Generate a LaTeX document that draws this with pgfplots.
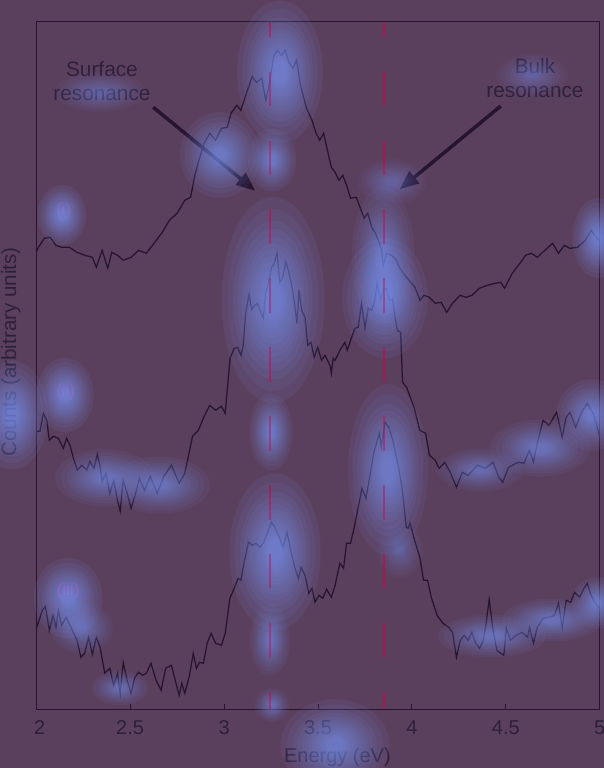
\documentclass[border=0pt]{standalone}
\usepackage{pgfplots}
\pgfplotsset{compat=1.18}
\usepackage{fontspec}
\setmainfont{Liberation Sans}
\usetikzlibrary{arrows.meta}
\definecolor{bgc}{RGB}{91,64,94}
\definecolor{curvec}{RGB}{38,20,48}
\definecolor{textc}{RGB}{46,32,60}
\definecolor{dashc}{RGB}{165,24,80}
\definecolor{labc}{RGB}{155,52,130}
\definecolor{blobc}{RGB}{125,155,255}
% glow in canvas coordinates (outside axis)
\newcommand\blob[5]{\foreach \s in {1.3,1.15,1,0.9,0.8,0.72,0.64,0.56,0.49,0.42,0.36,0.3,0.25,0.2}{\fill[blobc,opacity=#5] ({#1*1bp},{(768-#2)*1bp}) ellipse [x radius={#3*\s*1.1bp}, y radius={#4*\s*1.1bp}];}}
% glow placed through axis coordinates
\newcommand\blobA[5]{\pgfplotsinvokeforeach{1.3,1.15,1,0.9,0.8,0.72,0.64,0.56,0.49,0.42,0.36,0.3,0.25,0.2}{\fill[blobc,opacity=#5] (axis cs:#1,#2) ellipse [x radius={#3*##1*1.1bp}, y radius={#4*##1*1.1bp}];}}
\begin{document}
\fontsize{20bp}{24bp}\selectfont
\begin{tikzpicture}
\useasboundingbox (0,0) rectangle (604bp,768bp);
\fill[bgc] (0,0) rectangle (604bp,768bp);
\begin{axis}[at={(36.2bp,58.7bp)}, anchor=south west, scale only axis,
  width=563.6bp, height=687.6bp,
  xmin=2, xmax=5, ymin=0, ymax=687.6,
  axis line style={draw=curvec, line width=1.1bp},
  ytick=\empty,
  xtick={2,2.5,3,3.5,4,4.5,5},
  xticklabels={\hspace{7bp}2,2.5,3,3.5,4,4.5,5\hspace{6bp}},
  xtick pos=bottom, tick align=inside, major tick length=5bp,
  every tick/.style={draw=curvec, line width=1bp},
  xticklabel style={anchor=base, inner sep=0pt, text=textc, yshift=-24.7bp},
  clip=false]
% dashed reference lines
\draw[dashc, line width=1.9bp, dash pattern=on 34.5bp off 34.4bp, dash phase=17bp] (axis cs:3.246,0) -- (axis cs:3.246,687.6);
\draw[dashc, line width=1.9bp, dash pattern=on 34.5bp off 34.4bp, dash phase=17bp] (axis cs:3.849,0) -- (axis cs:3.849,687.6);
% curve (i)
\addplot[curvec, line width=1.25bp] coordinates {
(2.000,457)(2.012,462)(2.043,471)(2.074,472)(2.105,464)(2.135,462)(2.176,462)(2.217,457)(2.258,454)(2.299,452)(2.320,442)(2.351,459)(2.381,441)(2.402,457)(2.433,454)(2.463,449)(2.505,452)(2.546,459)(2.586,456)(2.627,466)(2.668,476)(2.709,489)(2.750,496)(2.791,509)(2.822,512)(2.842,532)(2.863,547)(2.894,566)(2.924,576)(2.955,569)(2.986,581)(3.017,582)(3.037,596)(3.068,604)(3.089,599)(3.119,616)(3.150,633)(3.171,627)(3.201,631)(3.222,609)(3.242,626)(3.263,652)(3.283,659)(3.304,654)(3.325,659)(3.345,647)(3.366,641)(3.386,649)(3.407,624)(3.437,602)(3.468,589)(3.488,577)(3.509,569)(3.530,576)(3.550,559)(3.571,542)(3.591,537)(3.611,529)(3.632,534)(3.652,524)(3.673,511)(3.704,512)(3.724,502)(3.745,491)(3.765,496)(3.786,482)(3.806,476)(3.827,466)(3.839,459)(3.847,444)(3.865,456)(3.891,454)(3.918,449)(3.935,441)(3.971,432)(3.998,426)(4.016,422)(4.043,409)(4.064,414)(4.093,412)(4.124,406)(4.155,407)(4.185,397)(4.216,406)(4.257,414)(4.288,412)(4.319,414)(4.360,421)(4.401,424)(4.442,426)(4.473,427)(4.493,421)(4.534,436)(4.575,446)(4.605,454)(4.636,456)(4.667,452)(4.708,459)(4.749,466)(4.780,456)(4.811,464)(4.841,461)(4.882,462)(4.923,469)(4.954,479)(4.981,472)(5.000,468)};
% curve (ii)
\addplot[curvec, line width=1.25bp] coordinates {
(2.000,278)(2.006,278)(2.020,278)(2.038,296)(2.056,289)(2.070,269)(2.091,273)(2.118,271)(2.144,261)(2.162,271)(2.180,264)(2.198,251)(2.219,239)(2.242,244)(2.269,239)(2.286,248)(2.308,241)(2.325,255)(2.340,243)(2.351,228)(2.371,236)(2.392,216)(2.412,229)(2.433,209)(2.447,198)(2.463,229)(2.484,216)(2.505,201)(2.525,213)(2.549,231)(2.576,219)(2.607,233)(2.644,216)(2.679,233)(2.720,244)(2.761,226)(2.791,236)(2.832,273)(2.863,279)(2.894,293)(2.924,304)(2.955,299)(2.986,303)(3.006,296)(3.032,351)(3.054,361)(3.072,362)(3.090,354)(3.102,364)(3.115,396)(3.133,415)(3.147,400)(3.164,404)(3.177,406)(3.191,399)(3.209,391)(3.221,416)(3.235,426)(3.253,442)(3.267,446)(3.282,456)(3.297,427)(3.310,431)(3.328,447)(3.342,439)(3.360,424)(3.374,407)(3.388,386)(3.399,419)(3.413,399)(3.431,392)(3.445,364)(3.462,367)(3.480,352)(3.498,362)(3.519,349)(3.537,354)(3.564,344)(3.571,336)(3.581,351)(3.591,349)(3.617,359)(3.643,367)(3.656,359)(3.679,372)(3.697,381)(3.714,382)(3.732,406)(3.750,381)(3.767,401)(3.786,399)(3.803,409)(3.815,426)(3.833,409)(3.847,419)(3.865,421)(3.879,409)(3.897,410)(3.910,392)(3.922,379)(3.940,377)(3.950,327)(3.972,322)(3.993,311)(4.011,302)(4.042,279)(4.073,276)(4.093,254)(4.124,249)(4.145,241)(4.175,247)(4.206,236)(4.237,222)(4.268,237)(4.298,234)(4.350,244)(4.391,241)(4.432,247)(4.462,232)(4.483,227)(4.514,242)(4.565,247)(4.596,246)(4.626,259)(4.647,247)(4.667,266)(4.698,289)(4.729,284)(4.770,297)(4.800,272)(4.821,292)(4.841,297)(4.872,282)(4.903,297)(4.933,306)(4.964,296)(4.995,276)(5.000,274)};
% curve (iii)
\addplot[curvec, line width=1.25bp] coordinates {
(2.000,80)(2.006,84)(2.033,99)(2.049,103)(2.070,79)(2.090,94)(2.105,82)(2.119,99)(2.135,84)(2.160,92)(2.187,81)(2.217,69)(2.238,52)(2.258,56)(2.279,72)(2.299,55)(2.320,72)(2.340,62)(2.365,36)(2.392,41)(2.412,24)(2.433,36)(2.447,16)(2.463,47)(2.484,29)(2.505,16)(2.525,32)(2.546,37)(2.566,34)(2.586,36)(2.611,46)(2.638,29)(2.665,19)(2.689,41)(2.720,44)(2.740,29)(2.761,14)(2.775,26)(2.791,16)(2.816,34)(2.836,56)(2.853,41)(2.869,47)(2.890,46)(2.910,66)(2.931,76)(2.955,66)(2.986,64)(3.006,76)(3.031,111)(3.054,121)(3.075,131)(3.089,129)(3.109,149)(3.130,167)(3.150,164)(3.171,166)(3.191,162)(3.212,167)(3.232,177)(3.253,187)(3.273,181)(3.294,172)(3.314,162)(3.335,177)(3.355,159)(3.376,142)(3.396,131)(3.410,142)(3.431,134)(3.451,116)(3.468,121)(3.484,107)(3.505,114)(3.525,111)(3.546,120)(3.571,112)(3.591,124)(3.616,146)(3.636,141)(3.652,166)(3.673,166)(3.693,182)(3.734,221)(3.755,211)(3.775,232)(3.796,256)(3.827,276)(3.837,262)(3.857,287)(3.878,282)(3.898,269)(3.929,242)(3.949,219)(3.970,182)(3.980,181)(3.990,186)(4.011,171)(4.042,152)(4.062,129)(4.083,129)(4.103,112)(4.134,94)(4.165,86)(4.196,82)(4.216,77)(4.237,52)(4.257,69)(4.278,74)(4.298,69)(4.319,77)(4.339,66)(4.360,61)(4.380,69)(4.395,86)(4.411,110)(4.432,79)(4.452,59)(4.473,56)(4.489,54)(4.503,81)(4.524,69)(4.555,74)(4.585,77)(4.616,72)(4.626,82)(4.647,66)(4.667,82)(4.698,91)(4.729,92)(4.759,94)(4.780,106)(4.800,82)(4.821,109)(4.845,107)(4.866,117)(4.893,112)(4.913,120)(4.933,126)(4.954,114)(4.974,107)(4.996,101)(5.000,100)};
% arrows and annotations
\draw[curvec, line width=3.5bp, -{Triangle[length=19bp,width=15bp]}] (axis cs:2.623,602) -- (axis cs:3.166,518.6);
\draw[curvec, line width=3.5bp, -{Triangle[length=19bp,width=15bp]}] (axis cs:4.473,603.3) -- (axis cs:3.935,520);
\node[text=textc, align=center, inner sep=0pt, font=\fontsize{20.8bp}{23.7bp}\selectfont] at (axis cs:2.350,628.3) {Surface\\resonance};
\node[text=textc, align=center, inner sep=0pt, font=\fontsize{20.8bp}{23.7bp}\selectfont] at (axis cs:4.655,631) {Bulk\\resonance};
\node[text=labc, inner sep=0pt, font=\fontsize{17bp}{20bp}\selectfont] at (axis cs:2.146,498.6) {(i)};
\node[text=labc, inner sep=0pt, font=\fontsize{17bp}{20bp}\selectfont] at (axis cs:2.157,317.6) {(ii)};
\node[text=labc, inner sep=0pt, font=\fontsize{17bp}{20bp}\selectfont] at (axis cs:2.170,118.6) {(iii)};
% glow overlay
\blobA{3.2977}{637.3}{30}{50}{0.08}
\blobA{2.9783}{554.3}{28}{30}{0.07}
\blobA{3.2551}{549.3}{17}{22}{0.07}
\blobA{2.1373}{494.3}{17}{21}{0.08}
\blobA{2.3396}{617.3}{32}{14}{0.04}
\blobA{4.6390}{634.3}{25}{15}{0.04}
\blobA{3.8939}{527.3}{24}{16}{0.04}
\blobA{3.8460}{454.3}{22}{48}{0.06}
\blobA{4.9904}{471.3}{18}{28}{0.08}
\blobA{3.2605}{409.3}{36}{72}{0.08}
\blobA{3.2498}{277.3}{15}{27}{0.07}
\blobA{3.8567}{411.3}{30}{42}{0.075}
\blobA{3.8726}{239.3}{28}{60}{0.075}
\blobA{2.1533}{314.3}{20}{26}{0.08}
\blobA{2.3662}{231.3}{35}{20}{0.06}
\blobA{2.6590}{224.3}{35}{20}{0.06}
\blobA{4.3623}{239.3}{30}{15}{0.05}
\blobA{4.6817}{261.3}{35}{20}{0.06}
\blobA{4.9585}{294.3}{25}{25}{0.07}
\blobA{3.2711}{157.3}{32}{55}{0.08}
\blobA{3.2445}{69.3}{14}{25}{0.06}
\blobA{3.2551}{4.3}{12}{12}{0.05}
\blobA{2.1693}{111.3}{24}{28}{0.08}
\blobA{2.2438}{81.3}{22}{18}{0.05}
\blobA{2.4461}{21.3}{20}{12}{0.05}
\blobA{4.4262}{73.3}{38}{15}{0.06}
\blobA{4.7455}{89.3}{35}{15}{0.06}
\blobA{4.9851}{106.3}{18}{18}{0.07}
\blobA{3.9365}{159.3}{16}{20}{0.035}
% dashed lines seen through the glow
\draw[dashc, opacity=0.45, line width=1.9bp, dash pattern=on 34.5bp off 34.4bp, dash phase=17bp] (axis cs:3.246,0) -- (axis cs:3.246,687.6);
\draw[dashc, opacity=0.45, line width=1.9bp, dash pattern=on 34.5bp off 34.4bp, dash phase=17bp] (axis cs:3.849,0) -- (axis cs:3.849,687.6);
\end{axis}
\node[text=textc, rotate=90, inner sep=0pt, font=\fontsize{20.6bp}{24bp}\selectfont] at (10.8bp,416bp) {Counts (arbitrary units)};
\node[text=textc, anchor=base, inner sep=0pt] at (337.4bp,6bp) {Energy (eV)};
\blob{12}{415}{25}{38}{0.08}
\blob{335}{745}{38}{32}{0.07}
\end{tikzpicture}
\end{document}
